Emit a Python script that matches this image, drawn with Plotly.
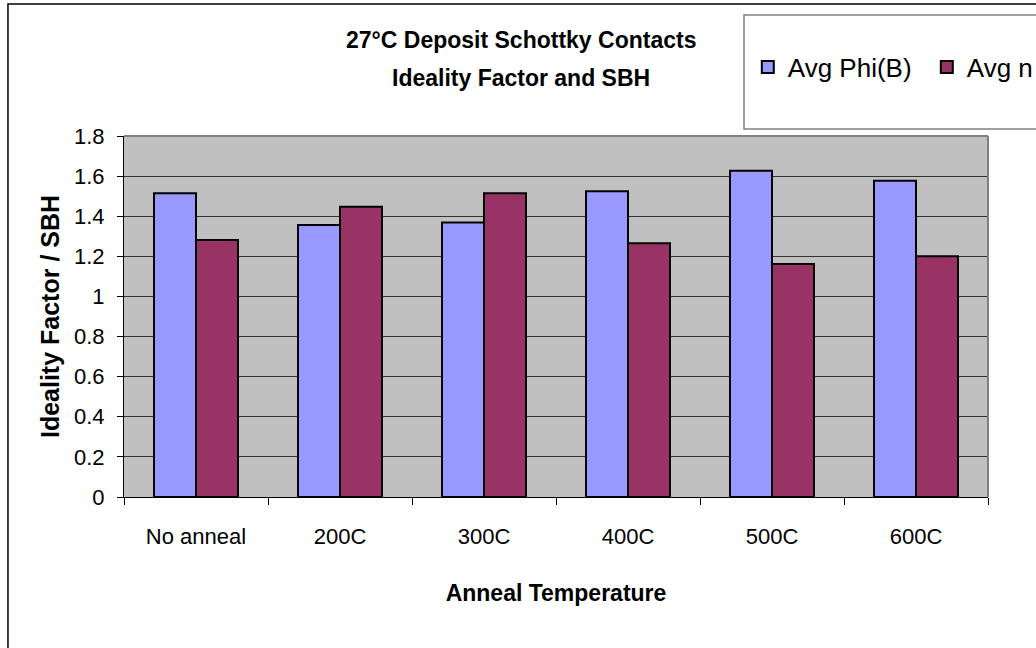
import plotly.graph_objects as go

categories = ["No anneal", "200C", "300C", "400C", "500C", "600C"]
avg_phi_b = [1.514, 1.356, 1.369, 1.525, 1.627, 1.577]
avg_n = [1.281, 1.447, 1.514, 1.265, 1.162, 1.201]

sans = "Liberation Sans, Arial, sans-serif"

fig = go.Figure()
fig.add_trace(go.Bar(x=categories, y=avg_phi_b, name="Avg Phi(B)",
                     marker=dict(color="#9999FF", line=dict(color="black", width=2))))
fig.add_trace(go.Bar(x=categories, y=avg_n, name="Avg n",
                     marker=dict(color="#993366", line=dict(color="black", width=2))))

fig.update_layout(
    width=1036, height=648,
    margin=dict(l=124, r=48, t=136, b=151, autoexpand=False),
    paper_bgcolor="white", plot_bgcolor="#C0C0C0",
    font=dict(family=sans, size=22, color="black"),
    barmode="group", bargap=0.417, bargroupgap=0,
    showlegend=True,
    legend=dict(orientation="h", x=0.722, y=1.191, xanchor="left", yanchor="middle",
                bgcolor="rgba(0,0,0,0)", borderwidth=0, entrywidth=134,
                font=dict(family=sans, size=26)),
)

fig.update_yaxes(range=[0, 1.8], dtick=0.2, showgrid=True, gridcolor="#333333", gridwidth=1,
                 showline=True, linecolor="black", linewidth=1,
                 ticks="outside", ticklen=6, tickcolor="black", zeroline=False,
                 ticklabelstandoff=8,
                 title=dict(text="<b>Ideality Factor / SBH</b>", standoff=7,
                            font=dict(family=sans, size=25)))
fig.update_xaxes(showline=True, linecolor="black", linewidth=1,
                 ticks="outside", ticklen=7, tickcolor="black", tickson="boundaries",
                 ticklabelstandoff=20,
                 title=dict(text="<b>Anneal Temperature</b>", standoff=36,
                            font=dict(family=sans, size=23)))

# title lines
fig.add_annotation(text="<b>27°C Deposit Schottky Contacts</b>", xref="paper", yref="paper",
                   x=0.4595, y=(497 - 40) / 361, xanchor="center", yanchor="middle",
                   showarrow=False, font=dict(family=sans, size=23))
fig.add_annotation(text="<b>Ideality Factor and SBH</b>", xref="paper", yref="paper",
                   x=0.4595, y=(497 - 78) / 361, xanchor="center", yanchor="middle",
                   showarrow=False, font=dict(family=sans, size=23))

# chart frame, legend box, plot border
fig.add_shape(type="rect", xref="paper", yref="paper", x0=-0.1343, y0=-0.5, x1=1.2, y1=1.3657,
              line=dict(color="black", width=1.5), fillcolor="rgba(0,0,0,0)")
fig.add_shape(type="rect", xref="paper", yref="paper", x0=0.7176, y0=1.0194, x1=1.2, y1=1.3352,
              line=dict(color="#808080", width=1.5), fillcolor="rgba(0,0,0,0)")
fig.add_shape(type="line", xref="paper", yref="paper", x0=0, y0=1, x1=1, y1=1,
              line=dict(color="#808080", width=2))
fig.add_shape(type="line", xref="paper", yref="paper", x0=1, y0=0, x1=1, y1=1,
              line=dict(color="#808080", width=2))

# page body margin would offset the chart by 8px
fig.write_html("out.html", config={"displayModeBar": False},
               post_script="document.body.style.margin='0px';")
